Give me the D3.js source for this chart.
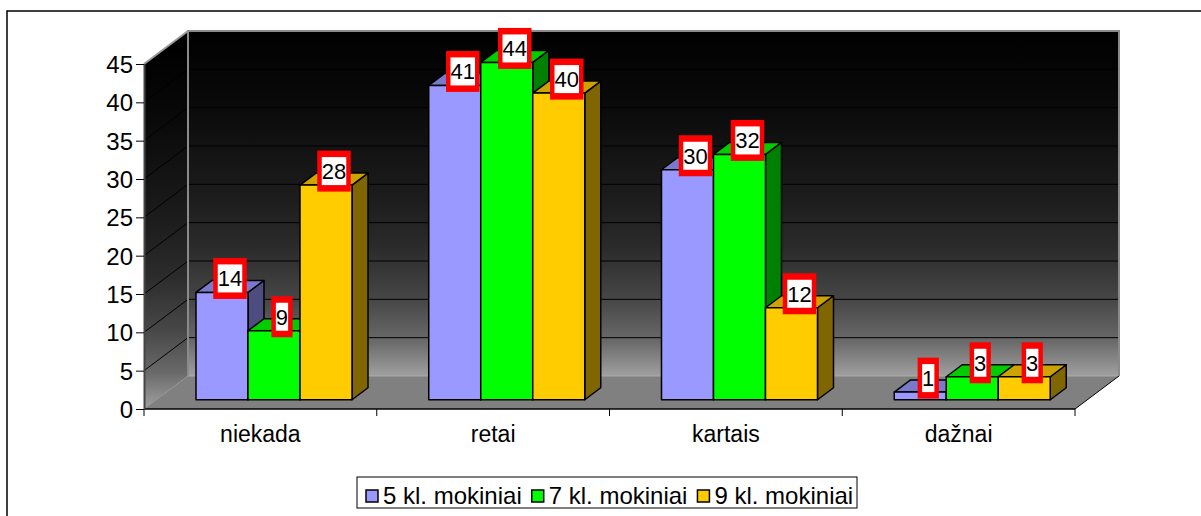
<!DOCTYPE html>
<html>
<head>
<meta charset="utf-8">
<script src="https://cdn.jsdelivr.net/npm/d3@7/dist/d3.min.js"></script>
<style>
  html, body { margin: 0; padding: 0; background: #fff; }
  svg { display: block; font-family: "Liberation Sans", Arial, sans-serif; }
</style>
</head>
<body>
<svg id="chart" width="1201" height="516"></svg>
<script>
const categories = ["niekada", "retai", "kartais", "dažnai"];
const seriesNames = ["5 kl. mokiniai", "7 kl. mokiniai", "9 kl. mokiniai"];
const s5 = [14, 41, 30, 1];
const s7 = [9, 44, 32, 3];
const s9 = [28, 40, 12, 3];
const yTicks = [0, 5, 10, 15, 20, 25, 30, 35, 40, 45];
const frontColors = ["#9999FF", "#00FF00", "#FFCC00"];
const topColors = ["#7a7acc", "#00cc00", "#cca300"];
const sideColors = ["#4d4d80", "#008000", "#806600"];

const seriesValues = [s5, s7, s9];

const svg = d3.select("#chart");
const left = 144, right = 1075, y0px = 409, y45px = 64;
const DX = 44, DY = 33;       // depth of the plot box
const zf = 0.28;              // bar front depth fraction
const bdx = 16, bdy = 12;     // bar depth
const fx = DX * zf + 1.3, fy = DY * zf;

const x = d3.scaleBand().domain(categories).range([left, right]);
const y = d3.scaleLinear().domain([0, 45]).range([y0px, y45px]);

// outer border
svg.append("rect").attr("x", 7).attr("y", 11).attr("width", 1400).attr("height", 700)
  .attr("fill", "#fff").attr("stroke", "#000").attr("stroke-width", 1.5);

// gradients
const defs = svg.append("defs");
function grad(id, y1, y2) {
  const g = defs.append("linearGradient").attr("id", id)
    .attr("gradientUnits", "userSpaceOnUse").attr("x1", 0).attr("x2", 0).attr("y1", y1).attr("y2", y2);
  [[0, "#000"], [0.2, "#090909"], [0.49, "#1d1d1d"], [0.63, "#2b2b2b"], [0.78, "#474747"], [0.9, "#6a6a6a"], [1, "#a0a0a0"]]
    .forEach(([o, c]) => g.append("stop").attr("offset", o).attr("stop-color", c));
}
grad("gBack", y(45) - DY, y(0) - DY);
grad("gSide", y(45) - DY / 2, y(0));

// back wall
svg.append("rect").attr("x", left + DX).attr("y", y(45) - DY)
  .attr("width", right - left).attr("height", y(0) - y(45))
  .attr("fill", "url(#gBack)");
// side wall
svg.append("polygon")
  .attr("points", [[left, y(45)], [left + DX, y(45) - DY], [left + DX, y(0) - DY], [left, y(0)]].join(" "))
  .attr("fill", "url(#gSide)");
// floor
svg.append("polygon")
  .attr("points", [[left, y(0)], [left + DX, y(0) - DY], [right + DX, y(0) - DY], [right, y(0)]].join(" "))
  .attr("fill", "#808080");

// gridlines
yTicks.filter(v => v > 0 && v < 45).forEach(v => {
  svg.append("line").attr("x1", left + DX).attr("x2", right + DX)
    .attr("y1", y(v) - DY).attr("y2", y(v) - DY).attr("stroke", "#000").attr("stroke-width", 1);
  svg.append("line").attr("x1", left).attr("x2", left + DX)
    .attr("y1", y(v)).attr("y2", y(v) - DY).attr("stroke", "#000").attr("stroke-width", 1);
});
// wall edges
svg.append("path")
  .attr("d", `M${left + DX},${y(0) - DY}V${y(45) - DY}H${right + DX}V${y(0) - DY}`)
  .attr("fill", "none").attr("stroke", "#8a8a8a").attr("stroke-width", 2);
svg.append("line").attr("x1", left).attr("y1", y(45)).attr("x2", left + DX).attr("y2", y(45) - DY)
  .attr("stroke", "#9a9a9a").attr("stroke-width", 2);
svg.append("line").attr("x1", left + DX).attr("y1", y(0) - DY).attr("x2", right + DX).attr("y2", y(0) - DY)
  .attr("stroke", "#a8a8a8").attr("stroke-width", 1);
svg.append("line").attr("x1", left).attr("y1", y(0)).attr("x2", left + DX).attr("y2", y(0) - DY)
  .attr("stroke", "#909090").attr("stroke-width", 1);
// floor edges
svg.append("line").attr("x1", right).attr("y1", y(0)).attr("x2", right + DX).attr("y2", y(0) - DY)
  .attr("stroke", "#000").attr("stroke-width", 1);

// bars
const inner = d3.scaleBand().domain(seriesNames).range([0, 156]);
const labels = [];
categories.forEach((cat, ci) => {
  const gx = x(cat) + x.bandwidth() / 2 + fx - 78;
  seriesNames.forEach((sn, si) => {
    const v = seriesValues[si][ci];
    const x0 = gx + inner(sn), w = inner.bandwidth();
    const yB = y(0) - fy, yT = y(v) - fy;
    const g = svg.append("g").attr("stroke", "#000").attr("stroke-width", 1.5).attr("stroke-linejoin", "round");
    g.append("polygon").attr("points", [[x0 + w, yT], [x0 + w + bdx, yT - bdy], [x0 + w + bdx, yB - bdy], [x0 + w, yB]].join(" "))
      .attr("fill", sideColors[si]);
    g.append("polygon").attr("points", [[x0, yT], [x0 + bdx, yT - bdy], [x0 + w + bdx, yT - bdy], [x0 + w, yT]].join(" "))
      .attr("fill", topColors[si]);
    g.append("rect").attr("x", x0).attr("y", yT).attr("width", w).attr("height", yB - yT)
      .attr("fill", frontColors[si]);
    labels.push({ v, cx: x0 + w / 2 + bdx / 2, cy: yT - bdy / 2 - 8 });
  });
});

// x axis line and ticks
svg.append("line").attr("x1", left).attr("x2", right).attr("y1", y(0)).attr("y2", y(0))
  .attr("stroke", "#000").attr("stroke-width", 1.5);
categories.concat([null]).forEach((cat, i) => {
  const xx = cat === null ? right : x(cat);
  svg.append("line").attr("x1", xx).attr("x2", xx).attr("y1", y(0)).attr("y2", y(0) + 7)
    .attr("stroke", "#000").attr("stroke-width", 1);
});
const xAxis = svg.append("g").attr("transform", `translate(0,${y(0)})`)
  .call(d3.axisBottom(x).tickSize(0).tickPadding(0));
xAxis.select(".domain").remove();
xAxis.selectAll("text").attr("font-size", 23).attr("fill", "#000")
  .attr("font-family", "Liberation Sans, Arial, sans-serif").attr("dy", null).attr("y", 33);

// y axis
const yAxis = svg.append("g").attr("transform", `translate(${left},0)`)
  .call(d3.axisLeft(y).tickValues(yTicks).tickSize(8).tickSizeOuter(0).tickPadding(3));
yAxis.select(".domain").attr("stroke", "#444").attr("stroke-width", 2);
yAxis.selectAll(".tick line").attr("stroke", "#000");
yAxis.selectAll("text").attr("font-size", 24).attr("fill", "#000")
  .attr("font-family", "Liberation Sans, Arial, sans-serif").attr("dy", "0.36em");

// data labels
labels.forEach(l => {
  const g = svg.append("g");
  const t = g.append("text").attr("x", l.cx).attr("y", l.cy + 8).attr("text-anchor", "middle")
    .attr("font-size", 22).attr("fill", "#000").text(l.v);
  const tw = t.node().getComputedTextLength();
  const ow = tw + 9, oh = 41;
  g.insert("rect", "text").attr("x", l.cx - ow / 2).attr("y", l.cy - oh / 2).attr("width", ow).attr("height", oh)
    .attr("fill", "#ff0000");
  g.insert("rect", "text").attr("x", l.cx - ow / 2 + 4.5).attr("y", l.cy - oh / 2 + 6.5)
    .attr("width", ow - 9).attr("height", oh - 13).attr("fill", "#fff");
});

// legend
const leg = svg.append("g");
leg.append("rect").attr("x", 357).attr("y", 477).attr("width", 500).attr("height", 31)
  .attr("fill", "#fff").attr("stroke", "#000").attr("stroke-width", 1);
let lx = 366;
seriesNames.forEach((sn, si) => {
  leg.append("rect").attr("x", lx).attr("y", 490).attr("width", 12).attr("height", 12)
    .attr("fill", frontColors[si]).attr("stroke", "#000").attr("stroke-width", 1.5);
  const t = leg.append("text").attr("x", lx + 17).attr("y", 504).attr("font-size", 24).attr("fill", "#000").text(sn);
  lx += 17 + t.node().getComputedTextLength() + 10;
});
</script>
</body>
</html>
